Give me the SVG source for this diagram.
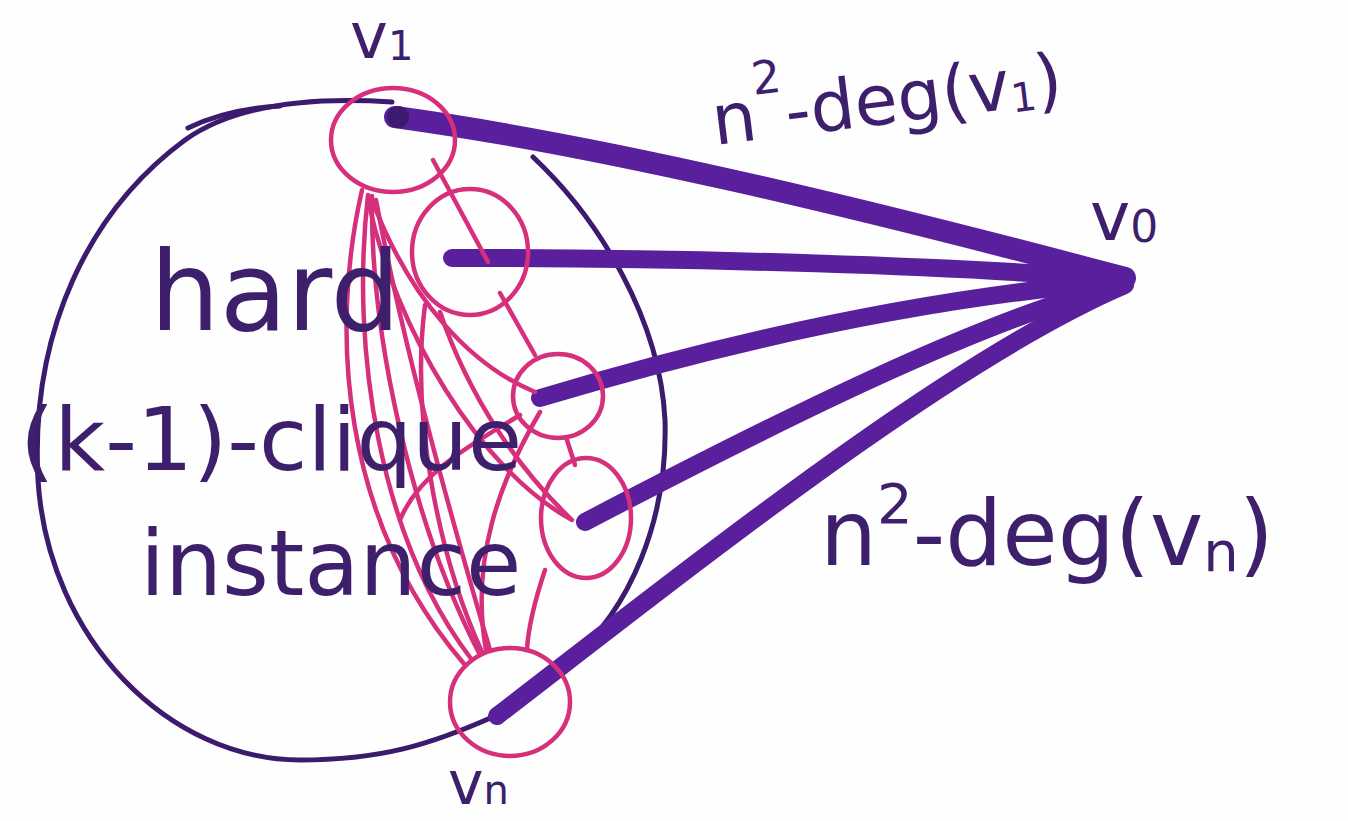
<svg xmlns="http://www.w3.org/2000/svg" width="1348" height="821" viewBox="0 0 1348 821">
<style>
.txt{font-family:"DejaVu Sans","Noto Sans",sans-serif;fill:#3d1f6c}
.edge{fill:none;stroke:#5a1f9c;stroke-linecap:round}
.pink{fill:none;stroke:#d6307c;stroke-width:4.5;stroke-linecap:round}
.outline{fill:none;stroke:#3c1a6e;stroke-width:5;stroke-linecap:round}
</style>
<rect width="1348" height="821" fill="#fefefe"/>
<g id="instance-boundary">
<path class="outline" d="M392,102 C300,96 230,108 185,140 C90,210 30,330 38,480 C48,640 170,760 300,760 C380,760 430,745 495,716"/>
<path class="outline" d="M533,157 C600,220 660,320 665,420 C668,520 630,610 570,660"/>
<path class="outline" d="M188,128 C215,115 245,108 280,106"/>
</g>
<g id="connectors">
<path class="edge" stroke-width="22" d="M395,117 C600,145 850,205 1125,278"/>
<path class="edge" stroke-width="18" d="M452,258 C700,258 950,265 1125,280"/>
<path class="edge" stroke-width="18" d="M540,398 C750,335 950,295 1125,281"/>
<path class="edge" stroke-width="18" d="M585,522 C780,420 980,320 1125,283"/>
<path class="edge" stroke-width="18" d="M497,716 C700,560 950,360 1125,285"/>
<path class="pink" d="M362,190 C330,330 340,520 465,665"/>
<path class="pink" d="M368,195 C350,350 380,540 472,660"/>
<path class="pink" d="M372,196 C370,330 410,520 480,655"/>
<path class="pink" d="M376,200 C400,330 440,480 490,650"/>
<path class="pink" d="M433,160 L488,262"/>
<path class="pink" d="M372,200 C410,300 470,365 535,392"/>
<path class="pink" d="M368,200 C395,330 480,470 572,520"/>
<path class="pink" d="M500,293 L535,355"/>
<path class="pink" d="M425,305 C410,420 440,560 482,652"/>
<path class="pink" d="M440,312 C470,400 520,470 570,518"/>
<path class="pink" d="M540,412 C500,480 470,560 486,650"/>
<path class="pink" d="M545,570 C535,600 528,630 527,650"/>
<path class="pink" d="M566,437 L575,465"/>
<path class="pink" d="M520,415 C480,440 420,470 400,520"/>
</g>
<g id="v1">
<ellipse cx="393" cy="140" rx="62" ry="52" class="pink"/>
<circle cx="398" cy="117" r="11" fill="#3c1a6e"/>
<text class="txt" x="350" y="58" font-size="64">v<tspan font-size="40" dy="2">1</tspan></text>
</g>
<g id="v2">
<ellipse cx="470" cy="252" rx="58" ry="63" class="pink"/>
</g>
<g id="v3">
<ellipse cx="558" cy="396" rx="45" ry="42" class="pink"/>
</g>
<g id="v4">
<ellipse cx="586" cy="518" rx="45" ry="60" class="pink"/>
</g>
<g id="vn">
<ellipse cx="510" cy="702" rx="60" ry="54" class="pink"/>
<text class="txt" x="448" y="804" font-size="60">v<tspan font-size="40">n</tspan></text>
</g>
<g id="v0">
<circle cx="1122" cy="280" r="12" fill="#5a1f9c"/>
<text class="txt" x="1090" y="240" font-size="68">v<tspan font-size="44" dy="2">0</tspan></text>
</g>
<g id="labels">
<text class="txt" x="150" y="330" font-size="110">hard</text>
<text class="txt" x="20" y="470" font-size="88">(k-1)-clique</text>
<text class="txt" x="140" y="595" font-size="90">instance</text>
<text class="txt" font-size="70" transform="translate(715,145) rotate(-7)">n<tspan font-size="46" dy="-45">2</tspan><tspan dy="45">-deg(v</tspan><tspan font-size="40" dy="4">1</tspan><tspan dy="-4">)</tspan></text>
<text class="txt" font-size="90" x="820" y="565">n<tspan font-size="56" dy="-42">2</tspan><tspan dy="42">-deg(v</tspan><tspan font-size="56" dy="6">n</tspan><tspan dy="-6">)</tspan></text>
</g>
</svg>
